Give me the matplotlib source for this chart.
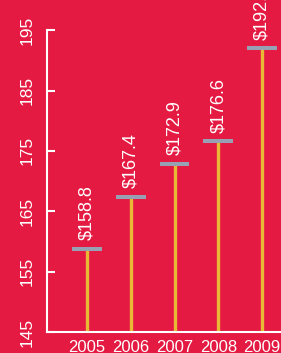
import numpy as np
import matplotlib
matplotlib.use("Agg")
import matplotlib.pyplot as plt

years = ["2005", "2006", "2007", "2008", "2009"]
values = [158.8, 167.4, 172.9, 176.6, 192.0]
labels = ["$158.8", "$167.4", "$172.9", "$176.6", "$192.0"]
yticks = [145, 155, 165, 175, 185, 195]

bg = "#E41A42"
stem_color = "#E9B935"
cap_color = "#98A1B4"

plt.rcParams['font.family'] = ['Liberation Sans', 'DejaVu Sans']

fig = plt.figure(figsize=(2.81, 3.53), dpi=100, facecolor=bg)
ax = fig.add_axes([0.167, 0.0595, 0.833, 0.9405])
ax.set_facecolor(bg)

x = np.arange(len(years))
ax.vlines(x, 145, values, color=stem_color, lw=2.4, zorder=2)
ax.hlines(values, x - 0.34, x + 0.34, color=cap_color, lw=2.9, zorder=3)

for xi, v, lab in zip(x, values, labels):
    ax.annotate(lab, (xi, v), xytext=(0, 6), textcoords="offset points",
                rotation=90, ha="center", va="bottom", color="white",
                fontsize=13, annotation_clip=False)

ax.set_xlim(-0.914, 4.43)
ax.set_ylim(145, 200)
ax.set_xticks(x)
ax.set_xticklabels(years)
ax.set_yticks(yticks)
ax.set_yticklabels([str(t) for t in yticks], rotation=90, va="center")

ax.tick_params(axis="y", direction="in", length=6, width=1.5, color="white",
               labelcolor="white", labelsize=12.5, pad=9)
ax.tick_params(axis="x", length=0, labelcolor="white", labelsize=12, pad=6)

for s in ["top", "right"]:
    ax.spines[s].set_visible(False)
ax.spines["left"].set_bounds(145, 195)
ax.spines["left"].set_color("white")
ax.spines["left"].set_linewidth(1.5)
ax.spines["bottom"].set_color("white")
ax.spines["bottom"].set_linewidth(1.5)

fig.savefig("out.png", dpi=100, facecolor=bg)
